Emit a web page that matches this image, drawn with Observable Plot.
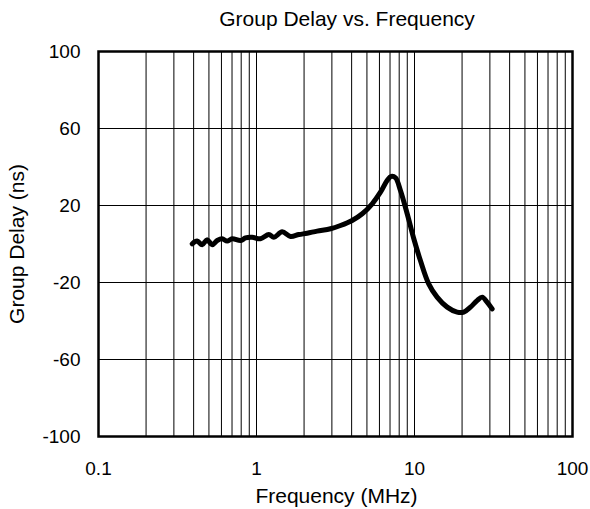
<!DOCTYPE html>
<html>
<head>
<meta charset="utf-8">
<script src="https://cdn.jsdelivr.net/npm/d3@7"></script>
<script src="https://cdn.jsdelivr.net/npm/@observablehq/plot@0.6"></script>
<style>
  html, body { margin: 0; padding: 0; background: #fff; }
  svg { display: block; }
</style>
</head>
<body>
<div id="chart"></div>
<script>
const title = "Group Delay vs. Frequency";
const xLabel = "Frequency (MHz)";
const yLabel = "Group Delay (ns)";

const freqMHz = [0.392, 0.421, 0.453, 0.487, 0.524, 0.564, 0.606, 0.652, 0.702, 0.794, 0.852, 0.939,
  1.06, 1.197, 1.288, 1.454, 1.642, 1.854, 2.093, 2.421, 2.94, 3.40, 4.03, 4.67, 5.40, 6.09,
  6.71, 7.12, 7.58, 8.15, 8.99, 9.90, 10.9, 12.3, 13.9, 16.1, 18.6, 20.5, 22.6, 24.9, 26.8, 28.8, 31.0];
const delayNs = [0.1, 1.5, -0.4, 2.2, -0.4, 1.8, 2.7, 1.5, 2.7, 1.8, 3.2, 3.5,
  2.7, 4.9, 3.5, 6.3, 3.9, 4.9, 5.6, 6.7, 7.9, 9.6, 12.2, 15.7, 20.9, 26.9,
  33.0, 35.1, 34.4, 27.8, 15.7, 2.7, -8.6, -20.7, -27.6, -32.8, -35.4, -35.4, -32.8, -29.4, -27.6, -30.2, -33.7];

const xTicks = [0.1, 1, 10, 100];
const yTicks = [-100, -60, -20, 20, 60, 100];
const yGrid = [-60, -20, 20, 60];
const xGrid = [];
for (const dec of [0.1, 1, 10]) for (let k = 1; k <= 9; k++) if (!(dec === 0.1 && k === 1)) xGrid.push(+(dec * k).toPrecision(3));

const data = freqMHz.map((f, i) => ({f, d: delayNs[i]}));

const chart = Plot.plot({
  width: 590,
  height: 509,
  marginLeft: 98,
  marginRight: 18,
  marginTop: 51,
  marginBottom: 73,
  style: {fontFamily: "'Liberation Sans', Arial, sans-serif", fontSize: "19px", background: "#fff", color: "#000"},
  x: {type: "log", domain: [0.1, 100]},
  y: {domain: [-100, 100]},
  marks: [
    Plot.ruleX(xGrid, {stroke: "#000", strokeWidth: 1}),
    Plot.ruleY(yGrid, {stroke: "#000", strokeWidth: 1}),
    Plot.axisX({ticks: xTicks, tickFormat: d => String(d), tickSize: 0, tickPadding: 25, fontSize: 19, label: null}),
    Plot.axisY({ticks: yTicks, tickFormat: d => String(d), tickSize: 0, tickPadding: 18, fontSize: 19, label: null}),
    Plot.line(data, {x: "f", y: "d", stroke: "#000", strokeWidth: 5, curve: "catmull-rom", strokeLinejoin: "round", strokeLinecap: "round"}),
    Plot.frame({stroke: "#000", strokeWidth: 2.5}),
    Plot.text([title], {frameAnchor: "top", text: d => d, dx: 11.5, dy: -32, lineAnchor: "middle", textAnchor: "middle", fontSize: 21}),
    Plot.text([xLabel], {frameAnchor: "bottom", text: d => d, dx: 1, dy: 60, lineAnchor: "middle", textAnchor: "middle", fontSize: 21}),
    Plot.text([yLabel], {frameAnchor: "left", text: d => d, rotate: -90, dx: -81, lineAnchor: "middle", textAnchor: "middle", fontSize: 21})
  ]
});
document.getElementById("chart").appendChild(chart);
</script>
</body>
</html>
